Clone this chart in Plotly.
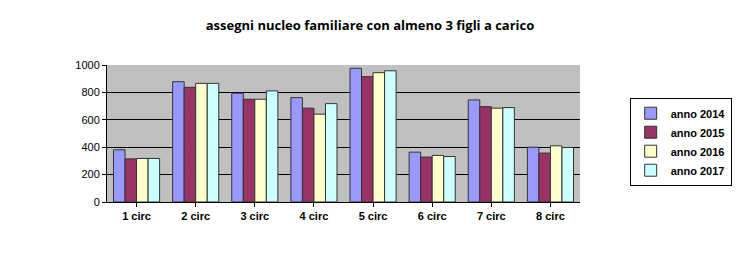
import plotly.graph_objects as go

categories = ["1 circ", "2 circ", "3 circ", "4 circ", "5 circ", "6 circ", "7 circ", "8 circ"]
anno_2014 = [381, 878, 794, 762, 976, 364, 745, 400]
anno_2015 = [315, 837, 750, 685, 915, 328, 696, 357]
anno_2016 = [318, 866, 750, 641, 944, 340, 685, 410]
anno_2017 = [318, 866, 811, 718, 958, 332, 689, 398]
series_names = ["anno 2014", "anno 2015", "anno 2016", "anno 2017"]
colors = ["#9999FF", "#993366", "#FFFFCC", "#CCFFFF"]
y_ticks = [0, 200, 400, 600, 800, 1000]

fig = go.Figure()
for name, vals, col in zip(series_names, [anno_2014, anno_2015, anno_2016, anno_2017], colors):
    fig.add_trace(go.Bar(
        x=categories, y=vals, name="<b>" + name + "</b>",
        marker=dict(color=col, line=dict(color="#333333", width=1)),
    ))

fig.update_layout(
    width=740, height=253,
    margin=dict(l=107, r=160, t=65, b=51, autoexpand=False),
    paper_bgcolor="white",
    plot_bgcolor="#C0C0C0",
    barmode="group",
    bargap=0.22,
    bargroupgap=0.0,
    font=dict(family="Liberation Sans", size=11, color="black"),
    title=dict(text="<b>assegni nucleo familiare con almeno 3 figli a carico</b>",
               x=0.5, xanchor="center", y=0.9, yanchor="middle",
               font=dict(family="Open Sans", size=13, color="black")),
    showlegend=True,
    legend=dict(x=1.105, xanchor="left", y=0.44, yanchor="middle",
                bordercolor="black", borderwidth=1, bgcolor="white",
                font=dict(family="Liberation Sans", size=11, color="black"),
                tracegroupgap=2, itemwidth=30),
    xaxis=dict(showline=True, linecolor="black", ticks="outside", ticklen=4,
               tickcolor="black", tickfont=dict(family="Liberation Sans", size=11),
               tickprefix="<b>", ticksuffix="</b>"),
    yaxis=dict(range=[0, 1000], tickvals=y_ticks, showgrid=True, gridcolor="black",
               gridwidth=1, showline=True, linecolor="black", ticks="outside",
               ticklen=4, tickcolor="black", zeroline=False,
               tickprefix="<b>", ticksuffix="</b>",
               tickfont=dict(family="Liberation Sans", size=11)),
)

fig.write_html("out.html")
